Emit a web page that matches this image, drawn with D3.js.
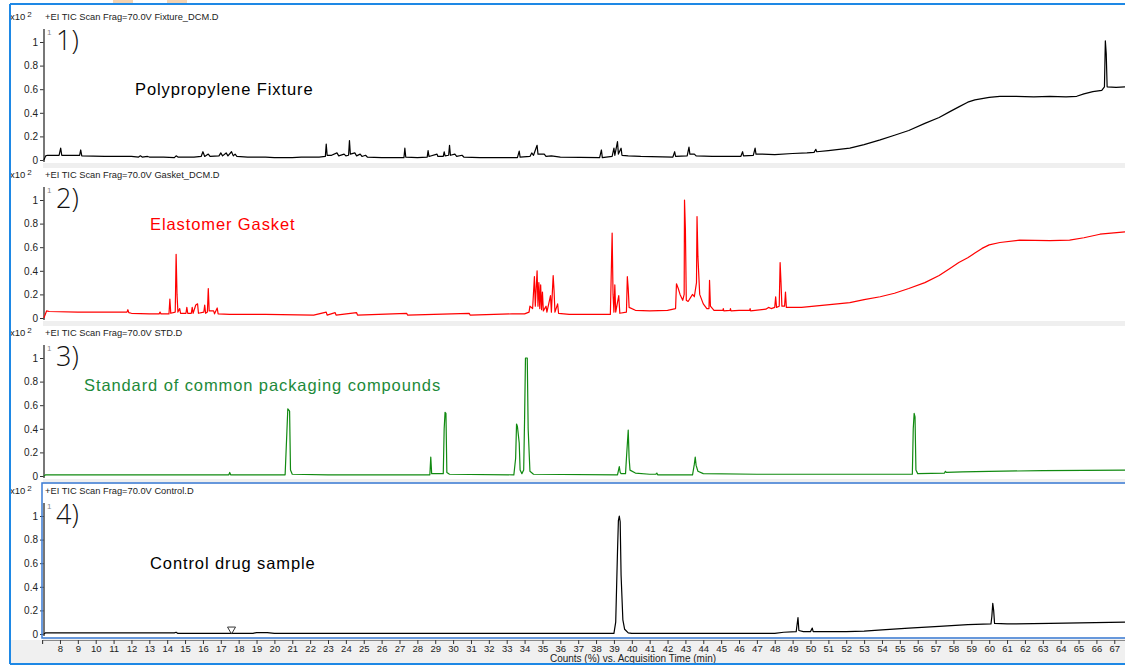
<!DOCTYPE html>
<html>
<head>
<meta charset="utf-8">
<script src="https://cdn.jsdelivr.net/npm/d3@7"></script>
<style>
  body { margin: 0; background: #ffffff; }
  svg { display: block; font-family: "Liberation Sans", Arial, sans-serif; }
</style>
</head>
<body>
<svg id="chart" width="1125" height="666"></svg>
<script>
// x axis ticks (minutes) and y ticks (counts x10^2)
var timeTicks = [7, 8, 9, 10, 11, 12, 13, 14, 15, 16, 17, 18, 19, 20, 21, 22, 23, 24, 25, 26, 27,
    28, 29, 30, 31, 32, 33, 34, 35, 36, 37, 38, 39, 40, 41, 42, 43, 44, 45, 46, 47, 48, 49, 50,
    51, 52, 53, 54, 55, 56, 57, 58, 59, 60, 61, 62, 63, 64, 65, 66, 67]
var countTicks = [0, 0.2, 0.4, 0.6, 0.8, 1]

var panelTitles = ["+EI TIC Scan Frag=70.0V Fixture_DCM.D", "+EI TIC Scan Frag=70.0V Gasket_DCM.D",
    "+EI TIC Scan Frag=70.0V STD.D", "+EI TIC Scan Frag=70.0V Control.D"]
var panelNumbers = ["1)", "2)", "3)", "4)"]
var sampleNames = ["Polypropylene Fixture", "Elastomer Gasket", "Standard of common packaging compounds", "Control drug sample"]

// [time (min), counts x10^2]
var fixture = [[7.1, 0], [7.2, 0.035], [7.3, 0.04], [7.95, 0.04], [8.04, 0.10], [8.1, 0.04], [9.1, 0.04], [9.16, 0.085],
    [9.22, 0.035], [10.5, 0.03], [12.0, 0.03], [12.4, 0.025], [12.5, 0.035], [12.6, 0.025], [12.9, 0.03], [13.0, 0.025],
    [13.8, 0.025], [14.4, 0.02], [14.5, 0.035], [14.6, 0.025], [15.5, 0.025], [15.9, 0.03], [16.0, 0.07], [16.1, 0.03],
    [16.3, 0.05], [16.4, 0.03], [16.9, 0.035], [17.0, 0.06], [17.1, 0.035], [17.3, 0.06], [17.4, 0.035], [17.6, 0.07],
    [17.7, 0.035], [17.8, 0.05], [17.9, 0.03], [18.5, 0.025], [19.5, 0.025], [20.0, 0.02], [21, 0.02], [21.5, 0.025],
    [22.5, 0.025], [22.85, 0.03], [22.9, 0.135], [22.95, 0.04], [23.2, 0.04], [23.5, 0.06], [23.6, 0.035], [23.9, 0.05],
    [24.0, 0.035], [24.15, 0.04], [24.2, 0.165], [24.25, 0.05], [24.5, 0.06], [24.6, 0.035], [24.8, 0.05], [24.9, 0.03],
    [25.1, 0.04], [25.2, 0.025], [26, 0.02], [27.25, 0.02], [27.3, 0.10], [27.35, 0.025], [28.0, 0.02], [28.55, 0.025],
    [28.6, 0.08], [28.65, 0.03], [29.1, 0.05], [29.15, 0.03], [29.45, 0.03], [29.5, 0.07], [29.55, 0.035], [29.75, 0.04],
    [29.8, 0.125], [29.85, 0.04], [30.1, 0.05], [30.2, 0.03], [30.5, 0.04], [30.6, 0.025], [31.5, 0.02], [33.6, 0.02],
    [33.7, 0.075], [33.75, 0.025], [34.3, 0.03], [34.4, 0.06], [34.5, 0.04], [34.7, 0.125], [34.75, 0.05], [35.1, 0.05],
    [35.2, 0.03], [35.5, 0.035], [36, 0.025], [38.2, 0.02], [38.3, 0.085], [38.35, 0.02], [38.9, 0.03], [39.0, 0.10],
    [39.05, 0.04], [39.2, 0.155], [39.25, 0.05], [39.4, 0.10], [39.45, 0.04], [39.8, 0.035], [40.5, 0.03], [42.3, 0.025],
    [42.4, 0.07], [42.45, 0.03], [43.1, 0.035], [43.2, 0.11], [43.25, 0.05], [43.5, 0.05], [43.6, 0.035], [44.5, 0.03],
    [46.1, 0.03], [46.2, 0.07], [46.25, 0.035], [46.8, 0.04], [46.9, 0.10], [46.95, 0.05], [47.3, 0.05], [48, 0.045],
    [49, 0.055], [49.8, 0.06], [50.2, 0.065], [50.3, 0.09], [50.35, 0.07], [51.0, 0.08], [51.6, 0.09], [52.2, 0.10],
    [53.0, 0.13], [53.9, 0.17], [54.7, 0.21], [55.5, 0.25], [56.4, 0.31], [57.2, 0.36], [57.8, 0.41], [58.3, 0.45],
    [58.8, 0.49], [59.2, 0.51], [60.0, 0.53], [60.6, 0.54], [61.5, 0.54], [62.5, 0.535], [63.4, 0.54], [64.3, 0.535],
    [64.9, 0.54], [65.3, 0.56], [65.8, 0.58], [66.3, 0.59], [66.45, 0.62], [66.5, 1.01], [66.55, 0.9], [66.6, 0.62],
    [67.1, 0.615], [67.6, 0.62]]

var gasket = [[7.1, 0], [7.25, 0.06], [7.4, 0.055], [9, 0.05], [11.5, 0.05], [11.75, 0.05], [11.8, 0.07], [11.85, 0.045],
    [12, 0.04], [13.0, 0.035], [13.55, 0.035], [13.6, 0.05], [13.65, 0.035], [14.1, 0.035], [14.15, 0.16], [14.2, 0.04],
    [14.45, 0.05], [14.5, 0.54], [14.55, 0.2], [14.6, 0.05], [14.7, 0.08], [14.75, 0.04], [15.05, 0.04], [15.1, 0.09],
    [15.15, 0.04], [15.35, 0.04], [15.4, 0.09], [15.45, 0.04], [15.6, 0.11], [15.7, 0.12], [15.75, 0.04], [16.05, 0.05],
    [16.1, 0.11], [16.15, 0.04], [16.25, 0.05], [16.3, 0.25], [16.35, 0.06], [16.6, 0.06], [16.65, 0.035], [16.8, 0.085],
    [16.85, 0.035], [17.5, 0.03], [19.5, 0.03], [22.2, 0.025], [22.9, 0.05], [22.95, 0.025], [23.4, 0.045], [23.45, 0.025],
    [24.6, 0.045], [24.65, 0.025], [27.4, 0.04], [27.45, 0.025], [30.9, 0.04], [30.95, 0.025], [33.3, 0.035], [34.0, 0.035],
    [34.25, 0.05], [34.3, 0.10], [34.45, 0.08], [34.55, 0.35], [34.6, 0.1], [34.7, 0.40], [34.75, 0.1], [34.8, 0.30],
    [34.85, 0.08], [34.9, 0.28], [34.95, 0.07], [35.0, 0.22], [35.05, 0.06], [35.2, 0.1], [35.25, 0.05], [35.45, 0.19],
    [35.5, 0.05], [35.6, 0.36], [35.65, 0.23], [35.7, 0.05], [35.85, 0.12], [35.9, 0.04], [36.5, 0.03], [38.8, 0.03],
    [38.9, 0.72], [38.95, 0.2], [39.0, 0.05], [39.05, 0.28], [39.1, 0.05], [39.27, 0.19], [39.33, 0.04], [39.7, 0.05],
    [39.75, 0.35], [39.8, 0.25], [39.85, 0.09], [40.2, 0.065], [41.0, 0.06], [42.0, 0.065], [42.45, 0.08], [42.5, 0.29],
    [42.6, 0.25], [42.7, 0.2], [42.85, 0.15], [42.93, 0.2], [42.95, 1.0], [43.0, 0.75], [43.05, 0.15], [43.15, 0.14],
    [43.4, 0.2], [43.5, 0.18], [43.62, 0.3], [43.65, 0.86], [43.7, 0.52], [43.8, 0.2], [44.0, 0.12], [44.2, 0.08],
    [44.32, 0.08], [44.35, 0.32], [44.4, 0.1], [44.6, 0.065], [45.1, 0.065], [45.12, 0.08], [45.15, 0.06], [45.5, 0.065],
    [45.52, 0.08], [45.55, 0.06], [46.0, 0.065], [46.6, 0.065], [46.62, 0.08], [46.65, 0.06], [47.5, 0.075], [47.65, 0.09],
    [47.8, 0.08], [48.0, 0.09], [48.05, 0.18], [48.1, 0.09], [48.25, 0.1], [48.3, 0.47], [48.35, 0.3], [48.4, 0.1],
    [48.55, 0.1], [48.6, 0.22], [48.65, 0.09], [49.5, 0.09], [50.5, 0.105], [51.5, 0.12], [52.2, 0.13], [53.0, 0.155],
    [53.9, 0.18], [54.7, 0.21], [55.5, 0.25], [56.4, 0.30], [57.2, 0.36], [57.8, 0.42], [58.3, 0.47], [58.8, 0.51],
    [59.2, 0.55], [59.6, 0.59], [60.0, 0.62], [60.6, 0.64], [61.7, 0.66], [63.4, 0.655], [64.5, 0.66], [65.3, 0.68],
    [66.2, 0.71], [67.6, 0.73]]

var standard = [[7.1, 0], [7.2, 0.01], [12, 0.01], [17.45, 0.01], [17.5, 0.03], [17.55, 0.01], [20.6, 0.01], [20.7, 0.38],
    [20.75, 0.57], [20.85, 0.55], [20.9, 0.05], [21.0, 0.015], [23, 0.01], [28.7, 0.01], [28.75, 0.16], [28.8, 0.02],
    [29.45, 0.02], [29.5, 0.40], [29.55, 0.54], [29.6, 0.53], [29.65, 0.03], [29.8, 0.015], [33.4, 0.01], [33.5, 0.15],
    [33.55, 0.44], [33.6, 0.42], [33.7, 0.28], [33.75, 0.05], [33.85, 0.02], [33.95, 0.05], [34.0, 0.48], [34.05, 1.0],
    [34.15, 1.0], [34.2, 0.4], [34.3, 0.04], [34.5, 0.015], [39.2, 0.01], [39.3, 0.08], [39.35, 0.03], [39.4, 0.02],
    [39.65, 0.02], [39.7, 0.15], [39.8, 0.39], [39.85, 0.15], [39.9, 0.05], [40.2, 0.025], [41, 0.015], [41.35, 0.015],
    [41.4, 0.025], [41.45, 0.01], [43.4, 0.01], [43.5, 0.1], [43.55, 0.16], [43.6, 0.09], [43.7, 0.04], [44.0, 0.02],
    [47, 0.015], [55.7, 0.015], [55.75, 0.4], [55.8, 0.53], [55.85, 0.5], [55.9, 0.05], [56.0, 0.02], [57.5, 0.025],
    [57.55, 0.04], [57.6, 0.03], [58.5, 0.035], [60, 0.04], [63, 0.045], [67.6, 0.05]]

var control = [[7.1, 0], [7.2, 0.01], [14.4, 0.01], [14.5, 0.015], [14.6, 0.005], [18.8, 0.005], [19.0, 0.012],
    [19.6, 0.012], [20.0, 0.005], [39.0, 0.005], [39.1, 0.1], [39.2, 0.7], [39.25, 0.96], [39.3, 1.0], [39.35, 0.95],
    [39.4, 0.5], [39.5, 0.12], [39.6, 0.04], [39.8, 0.01], [40, 0.005], [48, 0.005], [48.5, 0.015], [49.2, 0.02],
    [49.3, 0.14], [49.35, 0.03], [49.6, 0.02], [50.0, 0.02], [50.1, 0.05], [50.15, 0.02], [52, 0.02], [53, 0.025],
    [54, 0.035], [55.5, 0.05], [57.2, 0.065], [58.8, 0.08], [60.1, 0.085], [60.15, 0.15], [60.2, 0.26], [60.25, 0.2],
    [60.3, 0.09], [61, 0.085], [63.4, 0.09], [67.6, 0.10]]

// integration marker on the control trace
var controlMarker = [17.6, 0.025]

var traces = [fixture, gasket, standard, control]
var traceColors = ["#000000", "#ff0000", "#118a11", "#000000"]
var nameColors = ["#000000", "#ff0000", "#1d8a3a", "#000000"]

var svg = d3.select("#chart")

// shared time scale
var x = d3.scaleLinear().domain([7, 67.6]).range([42.1, 1125])

// outer window frame
svg.append("rect").attr("x", 0).attr("y", 0).attr("width", 1125).attr("height", 666).attr("fill", "#ffffff")
svg.append("rect").attr("x", 113).attr("y", 0).attr("width", 20).attr("height", 3).attr("fill", "#f3d2b0")
svg.append("rect").attr("x", 167).attr("y", 0).attr("width", 20).attr("height", 3).attr("fill", "#f3d2b0")

// Function for drawing one chromatogram panel
function drawPanel(i) {
    var zeroY = 160 + 158 * i
    var y = d3.scaleLinear().domain([0, 1]).range([zeroY, zeroY - 118])
    var g = svg.append("g")

    // gray strip under the plot
    g.append("rect").attr("x", 43).attr("y", zeroY + 3).attr("width", 1082).attr("height", 5).attr("fill", "#efefef")

    // header
    var hdr = g.append("text").attr("x", 10).attr("y", zeroY - 140).attr("font-size", 9.5).attr("fill", "#222")
    hdr.append("tspan").text("x10")
    hdr.append("tspan").attr("dx", 2).attr("dy", -3).attr("font-size", 8).text("2")
    g.append("text").attr("x", 45).attr("y", zeroY - 140).attr("font-size", 9.3).attr("fill", "#222").text(panelTitles[i])

    // y axis
    var yAxis = d3.axisLeft(y).tickValues(countTicks).tickSize(4).tickPadding(2)
        .tickFormat(function(d) { return d === 0 ? "0" : d === 1 ? "1" : d3.format(".1f")(d) })
    var ax = g.append("g").attr("transform", "translate(44,0)").call(yAxis)
    ax.select(".domain").remove()
    ax.selectAll("line").attr("stroke", "#333")
    ax.selectAll("text").attr("font-size", 10).attr("fill", "#222").attr("font-family", "Liberation Sans, Arial, sans-serif")
    g.append("line").attr("x1", 44).attr("x2", 44).attr("y1", y(1.11)).attr("y2", zeroY + 2)
        .attr("stroke", "#555").attr("stroke-width", 1.6)
    g.append("text").attr("x", 47).attr("y", y(1.06)).attr("font-size", 8).attr("fill", "#888").text("1")

    // trace
    var line = d3.line().x(function(d) { return x(d[0]) }).y(function(d) { return y(d[1]) })
    g.append("path").datum(traces[i]).attr("d", line).attr("fill", "none")
        .attr("stroke", traceColors[i]).attr("stroke-width", 1.2).attr("stroke-linejoin", "round")

    // annotations
    g.append("text").attr("x", 56).attr("y", y(0.93)).attr("font-size", 27).attr("font-weight", 300)
        .attr("font-family", "Open Sans, Liberation Sans, sans-serif").attr("fill", "#111").text(panelNumbers[i])
    var nameX = [135, 150, 84, 150]
    var nameV = [0.55, 0.75, 0.72, 0.55]
    g.append("text").attr("x", nameX[i]).attr("y", y(nameV[i])).attr("font-size", 16.5).attr("letter-spacing", 0.9)
        .attr("fill", nameColors[i]).text(sampleNames[i])

    if (i === 3) {
        var m = controlMarker
        var mx = x(m[0]), my = y(m[1])
        g.append("path").attr("d", "M" + (mx - 4) + "," + (my - 4) + "L" + (mx + 4) + "," + (my - 4) + "L" + mx + "," + (my + 3) + "Z")
            .attr("fill", "none").attr("stroke", "#333").attr("stroke-width", 1)
        // selected panel frame
        g.append("rect").attr("x", 42).attr("y", zeroY - 151).attr("width", 1090).attr("height", 155)
            .attr("fill", "none").attr("stroke", "#3a7bd5").attr("stroke-width", 1.5)
    }
}

for (var i = 0; i < 4; i++) {
    drawPanel(i)
}

// bottom time axis
svg.append("rect").attr("x", 10).attr("y", 640).attr("width", 1115).attr("height", 23).attr("fill", "#f0f0f0")
var xAxis = d3.axisBottom(x).tickValues(timeTicks).tickSize(4).tickPadding(1)
    .tickFormat(function(d) { return d === 7 ? "" : d })
var xa = svg.append("g").attr("transform", "translate(0,640)").call(xAxis)
xa.select(".domain").attr("stroke", "#888")
xa.selectAll("line").attr("stroke", "#333")
xa.selectAll("text").attr("font-size", 9.5).attr("fill", "#222").attr("font-family", "Liberation Sans, Arial, sans-serif")
svg.append("text").attr("x", 633).attr("y", 662).attr("text-anchor", "middle").attr("font-size", 10)
    .attr("fill", "#222").text("Counts (%) vs. Acquisition Time (min)")

// window border
svg.append("line").attr("x1", 10).attr("x2", 1125).attr("y1", 4).attr("y2", 4).attr("stroke", "#1e88e5").attr("stroke-width", 2)
svg.append("line").attr("x1", 10).attr("x2", 10).attr("y1", 4).attr("y2", 664).attr("stroke", "#1e88e5").attr("stroke-width", 2)
svg.append("line").attr("x1", 10).attr("x2", 1125).attr("y1", 664).attr("y2", 664).attr("stroke", "#1e88e5").attr("stroke-width", 2)
</script>
</body>
</html>
